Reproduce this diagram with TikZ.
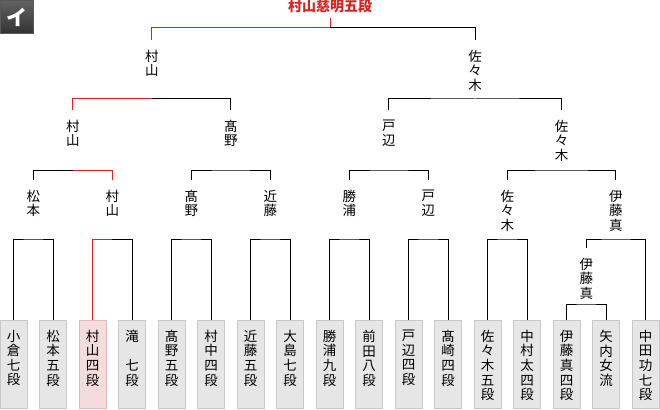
\documentclass[tikz,border=0pt]{standalone}
\usepackage{fontspec}
\newfontfamily\jpfont{Noto Sans CJK JP}
\usepackage{tikz}
\definecolor{winred}{HTML}{DD2222}
\definecolor{champred}{HTML}{D42424}
\definecolor{boxgray}{HTML}{E6E6E6}
\definecolor{boxline}{HTML}{C8C8C8}
\definecolor{winfill}{HTML}{F4DCDC}
\definecolor{winline}{HTML}{E2B8B8}
\tikzset{player/.style={draw=boxline, fill=boxgray, line width=1pt, minimum width=27pt, minimum height=88pt, inner sep=0pt, anchor=north},
  winbox/.style={player, draw=winline, fill=winfill},
  ptext/.style={font=\jpfont\fontsize{13.5}{14.6}\selectfont, align=center, anchor=north, inner sep=0pt},
  rname/.style={ptext, outer ysep=10pt},
  winner/.style={draw=winred},
  champ/.style={font=\jpfont\bfseries\fontsize{14}{15}\selectfont, text=champred, anchor=south, inner sep=0pt, outer ysep=5pt},
  tag/.style={anchor=north west, minimum size=33pt, inner sep=0pt, draw=black!65, line width=0.8pt, top color=black!62, bottom color=black!80, text=white, font=\jpfont\bfseries\fontsize{21}{21}\selectfont}}

\begin{document}
\begin{tikzpicture}[x=1pt, y=-1pt, line width=1pt]
      \useasboundingbox (0,0) rectangle (660,409);
      \node [tag] (tag) at (0,0) {イ};
      % players
      \foreach \x/\s/\t in {1/player/{小\\倉\\七\\段}, 2/player/{松\\本\\五\\段}, 3/winbox/{村\\山\\四\\段},
          4/player/{滝\\　\\七\\段}, 5/player/{髙\\野\\五\\段}, 6/player/{村\\中\\四\\段}, 7/player/{近\\藤\\五\\段},
          8/player/{大\\島\\七\\段}, 9/player/{勝\\浦\\九\\段}, 10/player/{前\\田\\八\\段}, 11/player/{戸\\辺\\四\\段},
          12/player/{髙\\崎\\四\\段}, 13/player/{佐\\々\\木\\五\\段}, 14/player/{中\\村\\太\\四\\段},
          15/player/{伊\\藤\\真\\四\\段}, 16/player/{矢\\内\\女\\流}, 17/player/{中\\田\\功\\七\\段}} {
        \node [\s] (p\x) at ({13.5+39.5*(\x-1)},319.5) {};
        \node [ptext, yshift=-10pt] (t\x) at (p\x.north) {\t};
      }
      % first round
      \foreach \a/\b/\m in {1/2/33.25, 5/6/191.25, 7/8/270.25, 9/10/349.25, 11/12/428.25, 13/14/507.25} {
        \coordinate (j\a) at (\m,239);
        \draw (p\a.north) |- (j\a) -| (p\b.north);
      }
      \coordinate (j3) at (112.25,239);
      \draw [winner] (p3.north) |- (j3);
      \draw (j3) -| (p4.north);
      \coordinate (j15) at (586.25,304);
      \draw (p15.north) |- (j15) -| (p16.north);
      \node [rname] (u15) at (586.25,248) {伊\\藤\\真};
      \coordinate (j17) at (615.9,239);
      \draw (u15.north) |- (j17) -| (p17.north);
      % second round
      \foreach \n/\x/\t in {1/33.25/{松\\本}, 2/112.25/{村\\山}, 3/191.25/{髙\\野}, 4/270.25/{近\\藤},
          5/349.25/{勝\\浦}, 6/428.25/{戸\\辺}, 7/507.25/{佐\\々\\木}, 8/615.9/{伊\\藤\\真}} {
        \node [rname] (s\n) at (\x,180) {\t};
      }
      \foreach \a/\b/\m in {3/4/230.75, 5/6/388.75, 7/8/561.6} {
        \coordinate (k\a) at (\m,170);
        \draw (s\a.north) |- (k\a) -| (s\b.north);
      }
      \coordinate (k1) at (72.75,170);
      \draw (s1.north) |- (k1);
      \draw [winner] (k1) -| (s2.north);
      % third round
      \foreach \n/\x/\t in {1/72.75/{村\\山}, 2/230.75/{髙\\野}, 3/388.75/{戸\\辺}, 4/561.6/{佐\\々\\木}} {
        \node [rname] (q\n) at (\x,110) {\t};
      }
      \coordinate (n3) at (475.2,99);
      \draw (q3.north) |- (n3) -| (q4.north);
      \coordinate (n1) at (151.75,99);
      \draw [winner] (q1.north) |- (n1);
      \draw (n1) -| (q2.north);
      % final
      \node [rname] (h1) at (151.75,40) {村\\山};
      \node [rname] (h2) at (475.2,40) {佐\\々\\木};
      \node [champ] (champ) at (330,18) {村山慈明五段};
      \coordinate (f) at (330,28);
      \draw [winner] (h1.north) |- (f) -- (champ.south);
      \draw (f) -| (h2.north);
    \end{tikzpicture}
\end{document}
